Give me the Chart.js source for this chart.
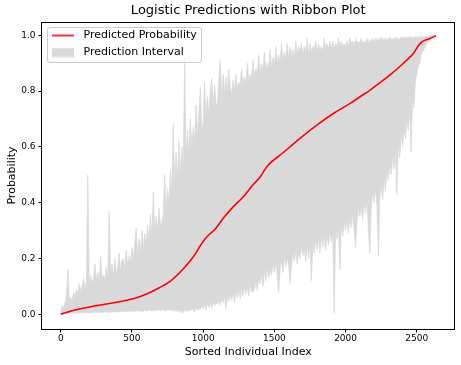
<!DOCTYPE html>
<html><head><meta charset="utf-8">
<script src="https://cdn.jsdelivr.net/npm/chart.js@4"></script>
<style>html,body{margin:0;padding:0;background:#fff;}</style>
</head><body>
<canvas id="c" width="461" height="365"></canvas>
<script>
// ---- data ----
const chartTitle = 'Logistic Predictions with Ribbon Plot';
const xAxisTitle = 'Sorted Individual Index';
const yAxisTitle = 'Probability';
const xTickValues = [0, 500, 1000, 1500, 2000, 2500];
const yTickValues = [0, 0.2, 0.4, 0.6, 0.8, 1.0];
const lastIndex = 2633;

// red line: sorted predicted probability
const predIndex = [0,100,241,381,522,615,685,768,861,931,1001,1037,1084,1142,1212,1282,1353,1400,1447,1563,1680,1798,1914,2032,2102,2172,2312,2406,2476,2511,2535,2593,2633];
const predProb  = [0.0,0.015,0.03,0.042,0.057,0.075,0.093,0.118,0.163,0.206,0.262,0.283,0.305,0.345,0.386,0.421,0.466,0.492,0.529,0.58,0.631,0.678,0.72,0.756,0.78,0.804,0.858,0.9,0.935,0.963,0.977,0.989,0.999];

// ribbon, sampled every 10 individuals (last sample = last index)
const ribbonStep = 10;
const upperBound = [
 0.012,0.03,0.025,0.04,0.07,0.16,0.05,0.06,0.045,0.08,
 0.06,0.09,0.07,0.11,0.08,0.1,0.13,0.085,0.12,0.5,
 0.1,0.14,0.11,0.13,0.18,0.12,0.15,0.11,0.21,0.13,
 0.14,0.12,0.17,0.13,0.37,0.14,0.18,0.13,0.2,0.15,
 0.17,0.22,0.15,0.19,0.2,0.16,0.23,0.17,0.21,0.18,
 0.24,0.19,0.26,0.31,0.2,0.27,0.22,0.3,0.23,0.29,
 0.25,0.32,0.26,0.36,0.27,0.44,0.29,0.35,0.3,0.38,
 0.32,0.33,0.36,0.5,0.37,0.45,0.4,0.52,0.43,0.685,
 0.46,0.58,0.48,0.62,0.5,0.6,0.53,0.917,0.55,0.66,
 0.57,0.7,0.6,0.67,0.62,0.75,0.64,0.72,0.816,0.66,
 0.68,0.83,0.7,0.78,0.71,0.8,0.846,0.74,0.82,0.75,
 0.76,0.84,0.91,0.78,0.86,0.79,0.85,0.8,0.88,0.81,
 0.79,0.84,0.8,0.86,0.81,0.83,0.82,0.88,0.82,0.85,
 0.83,0.9,0.84,0.86,0.85,0.91,0.85,0.88,0.86,0.93,
 0.86,0.9,0.87,0.94,0.87,0.9,0.88,0.95,0.88,0.92,
 0.89,0.96,0.9,0.93,0.9,0.97,0.91,0.94,0.92,0.97,
 0.92,0.96,0.93,0.95,0.92,0.98,0.93,0.96,0.94,0.97,
 0.93,0.96,0.94,0.99,0.93,0.97,0.94,0.96,0.95,0.98,
 0.94,0.97,0.95,0.96,0.94,0.99,0.95,0.97,0.95,0.98,
 0.95,0.98,0.95,0.97,0.96,0.99,0.96,0.98,0.96,0.97,
 0.96,0.98,0.96,0.99,0.97,0.98,0.96,0.99,0.97,0.98,
 0.97,0.99,0.97,0.98,0.97,0.99,0.97,0.985,0.975,0.99,
 0.975,0.99,0.98,0.99,0.975,0.995,0.98,0.99,0.98,0.99,
 0.98,0.995,0.985,0.99,0.98,0.995,0.985,0.99,0.985,0.995,
 0.985,0.995,0.99,0.995,0.99,0.997,0.99,0.995,0.99,0.997,
 0.99,0.997,0.992,0.996,0.993,0.997,0.994,0.998,0.995,0.998,
 0.996,0.998,0.997,0.999,1.0
];
const lowerBound = [
 0,0.002,0.001,0.003,0.002,0.004,0.003,0.004,0.003,0.005,
 0.004,0.006,0.004,0.005,0.006,0.004,0.007,0.005,0.006,0.005,
 0.006,0.005,0.007,0.006,0.008,0.006,0.007,0.006,0.008,0.007,
 0.007,0.009,0.006,0.008,0.007,0.009,0.008,0.01,0.007,0.009,
 0.008,0.01,0.008,0.011,0.009,0.012,0.009,0.011,0.01,0.013,
 0.01,0.012,0.009,0.013,0.011,0.014,0.01,0.012,0.011,0.015,
 0.01,0.014,0.012,0.016,0.011,0.015,0.012,0.017,0.013,0.016,
 0.012,0.018,0.013,0.016,0.01,0.019,0.014,0.017,0.012,0.02,
 0.01,0.016,0.008,0.018,0.006,0.015,0.004,0.02,0.008,0.017,
 0.01,0.02,0.012,0.022,0.008,0.025,0.015,0.02,0.018,0.028,
 0.02,0.035,0.015,0.04,0.025,0.045,0.02,0.05,0.03,0.04,
 0.035,0.055,0.03,0.06,0.04,0.065,0.02,0.07,0.045,0.075,
 0.05,0.08,0.04,0.085,0.06,0.09,0.055,0.095,0.065,0.1,
 0.07,0.1,0.065,0.11,0.08,0.08,0.09,0.12,0.085,0.13,
 0.11,0.15,0.1,0.16,0.12,0.17,0.13,0.16,0.14,0.18,
 0.15,0.19,0.14,0.08,0.16,0.2,0.15,0.21,0.17,0.2,
 0.18,0.11,0.17,0.22,0.19,0.23,0.18,0.22,0.2,0.24,
 0.21,0.24,0.19,0.25,0.2,0.26,0.12,0.25,0.22,0.27,
 0.23,0.27,0.22,0.28,0.24,0.29,0.23,0.28,0.25,0.3,
 0.26,0.29,0.004,0.3,0.27,0.31,0.16,0.32,0.28,0.33,
 0.3,0.34,0.29,0.35,0.31,0.36,0.3,0.24,0.33,0.38,
 0.35,0.39,0.34,0.41,0.36,0.42,0.3,0.22,0.38,0.44,
 0.4,0.45,0.39,0.21,0.42,0.47,0.41,0.5,0.44,0.52,
 0.48,0.54,0.5,0.57,0.52,0.6,0.43,0.62,0.56,0.65,
 0.6,0.67,0.63,0.7,0.66,0.74,0.58,0.78,0.74,0.84,
 0.86,0.89,0.9,0.93,0.94,0.95,0.96,0.97,0.975,0.98,
 0.985,0.99,0.992,0.995,0.998
];
const seriesLabels = ['Predicted Probability', 'Prediction Interval'];

// ---- styling ----
const RED = '#ff0000';
const RIBBON = '#d9d9d9';
const X_MIN = -131.65, X_MAX = 2764.65;
const Y_MIN = -0.053, Y_MAX = 1.048;

const ribbonIndex = upperBound.map((_, i) => (i === upperBound.length - 1 ? lastIndex : i * ribbonStep));
const pts = (xs, ys) => xs.map((x, i) => ({x: x, y: ys[i]}));

function legendSample(kind) {
  const c = document.createElement('canvas');
  c.width = 26; c.height = 10;
  const g = c.getContext('2d');
  if (kind === 'line') {
    g.strokeStyle = RED; g.lineWidth = 1.6;
    g.beginPath(); g.moveTo(0, 5); g.lineTo(22, 5); g.stroke();
  } else {
    g.fillStyle = RIBBON; g.fillRect(0, 0.5, 22, 9);
  }
  return c;
}
const samples = [legendSample('line'), legendSample('patch')];

Chart.defaults.font.family = "'DejaVu Sans', sans-serif";
Chart.defaults.color = '#000';

const frameAndLegend = {
  id: 'frameAndLegend',
  beforeDraw(chart) {
    const lg = chart.legend;
    if (lg && !lg._wrapped) {
      const orig = lg.draw.bind(lg);
      lg.draw = function () { if (lg._onTop) orig(); };
      lg._wrapped = true;
    }
  },
  afterDatasetsDraw(chart) {
    const ctx = chart.ctx, ca = chart.chartArea;
    ctx.save();
    ctx.strokeStyle = '#000'; ctx.lineWidth = 1;
    const l = Math.floor(ca.left) - 0.5, r = Math.floor(ca.right) + 0.5;
    const t = Math.floor(ca.top) + 0.5, b = Math.floor(ca.bottom) + 0.5;
    ctx.strokeRect(l, t, r - l, b - t);
    // legend frame
    ctx.beginPath();
    ctx.roundRect(ca.left + 5.5, ca.top + 5.5, 154, 35, 2.5);
    ctx.fillStyle = 'rgba(255,255,255,0.8)'; ctx.fill();
    ctx.strokeStyle = '#cccccc'; ctx.stroke();
    ctx.restore();
    const lg = chart.legend;
    if (lg && lg.legendHitBoxes && lg.legendHitBoxes.length) {
      const hb = lg.legendHitBoxes[0];
      const dx = (ca.left + 10) - hb.left;
      const dy = (ca.top + 8) - hb.top;
      ctx.save(); ctx.translate(dx, dy);
      lg._onTop = true; lg.draw(); lg._onTop = false;
      ctx.restore();
    }
  }
};

new Chart(document.getElementById('c'), {
  type: 'line',
  data: {
    datasets: [
      { label: seriesLabels[0], data: pts(predIndex, predProb), borderColor: RED, backgroundColor: RED,
        borderWidth: 1.6, pointRadius: 0, fill: false, cubicInterpolationMode: 'monotone' },
      { label: seriesLabels[1], data: pts(ribbonIndex, upperBound), borderColor: RIBBON, backgroundColor: RIBBON,
        borderWidth: 0.8, pointRadius: 0, fill: '+1', tension: 0 },
      { label: 'lower', data: pts(ribbonIndex, lowerBound), borderColor: RIBBON, backgroundColor: RIBBON,
        borderWidth: 0.8, pointRadius: 0, fill: false, tension: 0 }
    ]
  },
  options: {
    responsive: false, animation: false, devicePixelRatio: 1, events: [],
    layout: { padding: { left: 0, right: 6.5, top: 0, bottom: 0 } },
    scales: {
      x: {
        type: 'linear', min: X_MIN, max: X_MAX,
        afterBuildTicks: s => { s.ticks = xTickValues.map(v => ({value: v})); },
        afterFit: s => { s.height = 36; },
        ticks: { font: {size: 9}, padding: 1, color: '#000', maxRotation: 0, autoSkip: false,
                 callback: v => String(v) },
        grid: { display: true, drawOnChartArea: false, drawTicks: true, tickLength: 3.5, color: '#000', lineWidth: 1 },
        border: { display: false },
        title: { display: true, text: xAxisTitle, font: {size: 11}, color: '#000', padding: {top: 0, bottom: 6.4} }
      },
      y: {
        type: 'linear', min: Y_MIN, max: Y_MAX,
        afterBuildTicks: s => { s.ticks = yTickValues.map(v => ({value: v})); },
        afterFit: s => { s.width = 42; },
        ticks: { font: {size: 9}, padding: 3, color: '#000', autoSkip: false,
                 callback: v => Number(v).toFixed(1) },
        grid: { display: true, drawOnChartArea: false, drawTicks: true, tickLength: 3.5, color: '#000', lineWidth: 1 },
        border: { display: false },
        title: { display: true, text: yAxisTitle, font: {size: 11}, color: '#000', padding: {top: 5.5, bottom: 0} }
      }
    },
    plugins: {
      title: { display: true, text: chartTitle, font: {size: 13, weight: 'normal'}, color: '#000',
               padding: {top: 3, bottom: 3.4}, fullSize: false },
      tooltip: { enabled: false },
      legend: {
        display: true, position: 'chartArea', align: 'start',
        labels: {
          usePointStyle: true, pointStyleWidth: 26, boxHeight: 10, padding: 6,
          font: {size: 11}, color: '#000',
          generateLabels: () => seriesLabels.map((t, i) => ({
            text: t, pointStyle: samples[i], fillStyle: i ? RIBBON : RED, strokeStyle: i ? RIBBON : RED,
            lineWidth: 0, hidden: false, datasetIndex: i, fontColor: '#000'
          }))
        }
      }
    }
  },
  plugins: [frameAndLegend]
});
</script>
</body></html>
